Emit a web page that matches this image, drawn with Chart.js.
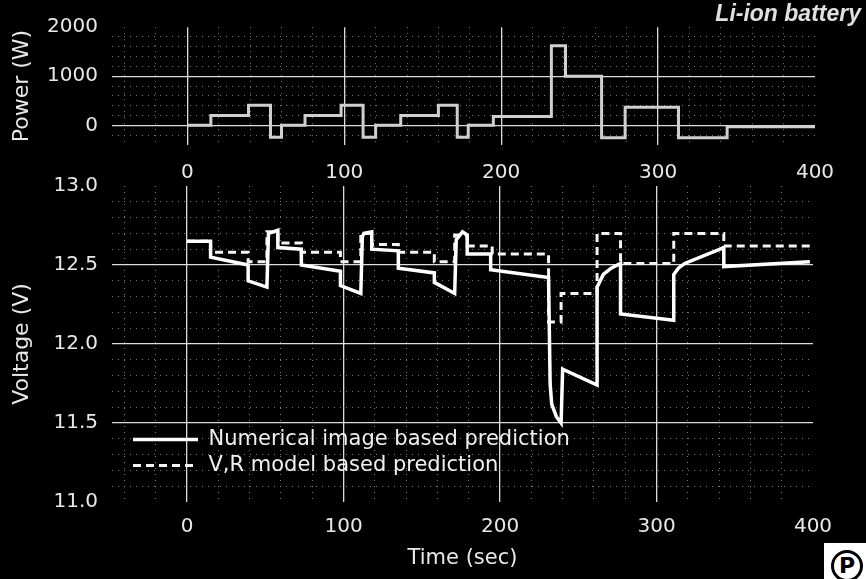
<!DOCTYPE html>
<html>
<head>
<meta charset="utf-8">
<title>Li-ion battery</title>
<script src="https://cdn.jsdelivr.net/npm/chart.js@4.4.1/dist/chart.umd.min.js"></script>
<style>
    html, body { margin: 0; padding: 0; background: #000; }
    body { position: relative; width: 866px; height: 579px; overflow: hidden; }
    .chart-box { position: absolute; left: 0; width: 866px; }
    #power-box { top: 0; height: 190px; }
    #voltage-box { top: 150px; height: 429px; }
    #logo { position: absolute; left: 824px; top: 543px; width: 42px; height: 36px; background: #fff; overflow: hidden; }
    #logo span {
        position: absolute; left: 7px; top: 7px; width: 32px; height: 32px;
        box-sizing: border-box; border: 3px solid #000; border-radius: 50%;
        font: bold 22px 'DejaVu Sans', sans-serif; line-height: 26px;
        color: #000; text-align: center;
    }
</style>
</head>
<body>
<div class="chart-box" id="power-box"><canvas id="power-graph"></canvas></div>
<div class="chart-box" id="voltage-box"><canvas id="voltage-graph"></canvas></div>
<div id="logo"><span>P</span></div>
<script>
// Power profile, step values: each value holds until the next time.
const powerTime  = [0, 15, 39, 53, 60, 75, 98, 112, 120, 136, 160, 172, 179, 195, 232, 241, 264, 279, 313, 344, 400];
const powerWatts = [0, 200, 410, -240, 0, 200, 410, -240, 0, 200, 410, -240, 0, 180, 1620, 1000, -250, 370, -250, -30, -30];

// Numerical image based prediction (solid).
const numTime  = [0, 15, 15, 39, 39, 51, 52, 58, 58, 73, 73, 98, 98, 111, 112, 113, 118, 118, 135, 135,
                  158, 158, 171, 172, 176, 179, 179, 194, 194, 231, 232, 233, 236, 239, 240, 262, 262, 266, 271, 277,
                  277, 311, 311, 314, 318, 343, 343, 398];
const numVolts = [12.65, 12.65, 12.55, 12.50, 12.40, 12.36, 12.70, 12.72, 12.61, 12.60, 12.50, 12.46, 12.37, 12.32, 12.68, 12.70, 12.71, 12.60, 12.59, 12.48,
                  12.45, 12.39, 12.32, 12.66, 12.71, 12.69, 12.57, 12.57, 12.47, 12.42, 11.75, 11.62, 11.54, 11.50, 11.84, 11.74, 12.36, 12.44, 12.48, 12.51,
                  12.19, 12.15, 12.44, 12.48, 12.51, 12.61, 12.49, 12.52];

// V,R model based prediction (dashed).
const vrTime  = [0, 15, 15, 39, 39, 51, 51, 58, 58, 73, 73, 98, 98, 111, 111, 118, 118, 135, 135, 158,
                 158, 171, 171, 179, 179, 195, 195, 231, 231, 239, 239, 262, 262, 277, 277, 311, 311, 343, 343, 398];
const vrVolts = [12.65, 12.65, 12.58, 12.58, 12.52, 12.52, 12.71, 12.71, 12.64, 12.64, 12.58, 12.58, 12.52, 12.52, 12.70, 12.70, 12.63, 12.63, 12.58, 12.58,
                 12.52, 12.52, 12.69, 12.69, 12.62, 12.62, 12.57, 12.57, 12.14, 12.14, 12.32, 12.32, 12.70, 12.70, 12.51, 12.51, 12.70, 12.70, 12.62, 12.62];

// Grid and tick values.
const timeGrid   = [-40, -20, 0, 20, 40, 60, 80, 100, 120, 140, 160, 180, 200, 220, 240, 260, 280, 300, 320, 340, 360, 380, 400];
const timeLabels = [0, 100, 200, 300, 400];
const timeMajor  = [0, 100, 200, 300];

const powerGrid   = [-400, -200, 0, 200, 400, 600, 800, 1000, 1200, 1400, 1600, 1800, 2000];
const powerLabels = [0, 1000, 2000];
const powerMajor  = [0, 1000];

const voltGrid   = [11.0, 11.1, 11.2, 11.3, 11.4, 11.5, 11.6, 11.7, 11.8, 11.9, 12.0, 12.1, 12.2, 12.3, 12.4, 12.5, 12.6, 12.7, 12.8, 12.9, 13.0];
const voltLabels = [11.0, 11.5, 12.0, 12.5, 13.0];
const voltMajor  = [11.5, 12.0, 12.5];

const MAJOR_COLOR = '#dcdcdc';
const MINOR_COLOR = '#7a7a7a';

Chart.defaults.font.family = "'DejaVu Sans', sans-serif";
Chart.defaults.color = '#e8e8e8';

function has(list, v) {
    return list.some(x => Math.abs(x - v) < 1e-6);
}

function points(xs, ys) {
    return xs.map((x, i) => ({ x: x, y: ys[i] }));
}

// Builds a linear axis with fixed grid values, solid major lines and dotted minor lines.
function gridAxis(opts) {
    return {
        type: 'linear',
        position: opts.position,
        min: opts.min,
        max: opts.max,
        afterBuildTicks: (scale) => { scale.ticks = opts.grid.map(v => ({ value: v })); },
        afterFit: opts.afterFit,
        grid: {
            drawTicks: false,
            color: (ctx) => {
                const v = ctx.tick.value;
                if (has(opts.major, v)) return MAJOR_COLOR;
                if (Math.abs(v - opts.min) < 1e-6 || Math.abs(v - opts.max) < 1e-6) return 'rgba(0,0,0,0)';
                return MINOR_COLOR;
            },
            lineWidth: (ctx) => has(opts.major, ctx.tick.value) ? 1.3 : 1,
        },
        border: {
            display: false,
            dash: (ctx) => has(opts.major, ctx.tick.value) ? [] : [1, 5],
        },
        ticks: {
            autoSkip: false,
            maxRotation: 0,
            minRotation: 0,
            padding: opts.padding,
            font: { size: 20 },
            callback: (v) => has(opts.labels, v) ? opts.format(v) : '',
        },
        title: opts.title,
    };
}

// Moves the in-plot legend to where the original sits.
const LEGEND_SHIFT_X = 16;
const LEGEND_SHIFT_Y = -15;
const legendNudge = {
    id: 'legendNudge',
    afterLayout(chart) {
        const legend = chart.legend;
        if (!legend) return;
        legend.left += LEGEND_SHIFT_X;
        legend.top -= LEGEND_SHIFT_Y;
        legend.bottom -= LEGEND_SHIFT_Y;
    }
};

// Legend items drawn as line samples that keep the dataset dash.
function lineLegendLabels(chart) {
    const items = Chart.defaults.plugins.legend.labels.generateLabels(chart);
    return items.map(item => {
        const ds = chart.data.datasets[item.datasetIndex];
        item.pointStyle = 'line';
        item.strokeStyle = ds.borderColor;
        item.lineWidth = ds.borderWidth;
        item.lineDash = ds.borderDash || [];
        return item;
    });
}

// Power chart.
new Chart(document.getElementById('power-graph'), {
    type: 'line',
    data: {
        datasets: [{
            label: 'Power',
            data: points(powerTime, powerWatts),
            stepped: 'before',
            borderColor: '#cfcfcf',
            borderWidth: 3,
            pointRadius: 0,
            fill: false,
        }],
    },
    options: {
        responsive: true,
        maintainAspectRatio: false,
        animation: false,
        devicePixelRatio: 1,
        layout: { padding: { left: 0, right: 5, top: 0, bottom: 0 } },
        plugins: {
            legend: { display: false },
            tooltip: { enabled: false },
            title: {
                display: true,
                text: 'Li-ion battery',
                align: 'end',
                color: '#e0e0e0',
                font: { family: "'Liberation Sans', Arial, sans-serif", size: 23, style: 'italic', weight: 'bold', lineHeight: 1.05 },
                padding: { top: 3, bottom: 0 },
            },
        },
        scales: {
            x: gridAxis({
                position: 'bottom', min: -48, max: 400,
                grid: timeGrid, major: timeMajor, labels: timeLabels,
                padding: 16, format: v => String(v),
                afterFit: (s) => { s.height = 45; },
            }),
            y: gridAxis({
                position: 'left', min: -400, max: 2000,
                grid: powerGrid, major: powerMajor, labels: powerLabels,
                padding: 14, format: v => String(v),
                afterFit: (s) => { s.width = 112; },
                title: { display: true, text: 'Power (W)', font: { size: 22 }, padding: { top: 9, bottom: 0 } },
            }),
            yRight: {
                position: 'right',
                display: true,
                grid: { display: false },
                border: { display: false },
                ticks: { display: false },
                afterFit: (s) => { s.width = 46; },
            },
        },
    },
});

// Voltage chart.
new Chart(document.getElementById('voltage-graph'), {
    type: 'line',
    data: {
        datasets: [
            {
                label: 'Numerical image based prediction',
                data: points(numTime, numVolts),
                borderColor: '#ffffff',
                backgroundColor: 'rgba(0,0,0,0)',
                borderWidth: 3.5,
                pointRadius: 0,
                tension: 0,
                fill: false,
            },
            {
                label: 'V,R model based prediction',
                data: points(vrTime, vrVolts),
                borderColor: '#f4f4f4',
                backgroundColor: 'rgba(0,0,0,0)',
                borderWidth: 3,
                borderDash: [8, 5],
                pointRadius: 0,
                tension: 0,
                fill: false,
            },
        ],
    },
    options: {
        responsive: true,
        maintainAspectRatio: false,
        animation: false,
        devicePixelRatio: 1,
        layout: { padding: { left: 0, right: 53, top: 36, bottom: 0 } },
        plugins: {
            tooltip: { enabled: false },
            legend: {
                display: true,
                position: 'chartArea',
                align: 'end',
                labels: {
                    color: '#f0f0f0',
                    font: { size: 21 },
                    usePointStyle: true,
                    pointStyleWidth: 65,
                    boxWidth: 65,
                    boxHeight: 10,
                    padding: 5,
                    generateLabels: lineLegendLabels,
                },
            },
        },
        scales: {
            x: gridAxis({
                position: 'bottom', min: -48, max: 400,
                grid: timeGrid, major: timeMajor, labels: timeLabels,
                padding: 13, format: v => String(v),
                afterFit: (s) => { s.height = 77; },
                title: { display: true, text: 'Time (sec)', font: { size: 21 }, padding: { top: 0, bottom: 8 } },
            }),
            y: gridAxis({
                position: 'left', min: 11.0, max: 13.0,
                grid: voltGrid, major: voltMajor, labels: voltLabels,
                padding: 14, format: v => v.toFixed(1),
                afterFit: (s) => { s.width = 112; },
                title: { display: true, text: 'Voltage (V)', font: { size: 22 }, padding: { top: 9, bottom: 0 } },
            }),
        },
    },
    plugins: [legendNudge],
});
</script>
</body>
</html>
